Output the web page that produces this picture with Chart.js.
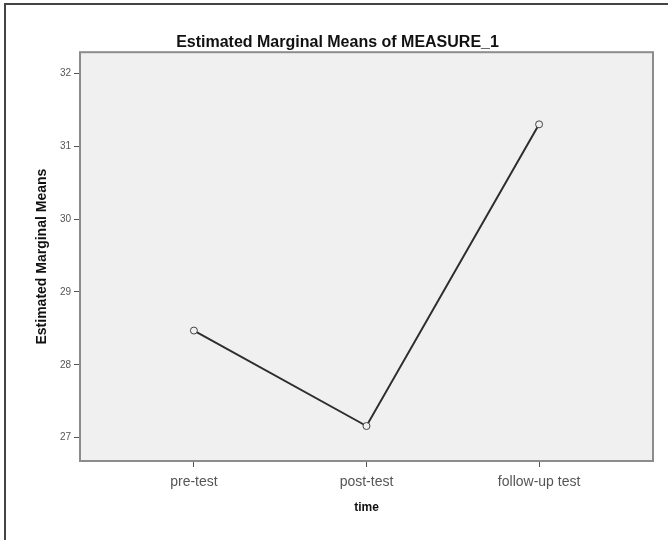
<!DOCTYPE html>
<html>
<head>
<meta charset="utf-8">
<script src="https://cdn.jsdelivr.net/npm/chart.js@4"></script>
<style>
  html, body { margin: 0; padding: 0; background: #fff; }
  #wrap { width: 668px; height: 540px; position: relative; }
</style>
</head>
<body>
<div id="wrap"><canvas id="emmChart" width="668" height="540"></canvas></div>
<script>
// values
const categories = ['pre-test', 'post-test', 'follow-up test'];
const means = [28.47, 27.16, 31.30];
const yTicks = [27, 28, 29, 30, 31, 32];

const FONT = '"Liberation Sans", Arial, sans-serif';

// plot background, plot border and the outer frame lines
const frame = {
  id: 'frame',
  beforeDraw(chart) {
    const { ctx, chartArea: a } = chart;
    ctx.save();
    ctx.strokeStyle = '#444';
    ctx.lineWidth = 2;
    ctx.beginPath();
    ctx.moveTo(5, 540);
    ctx.lineTo(5, 4);
    ctx.lineTo(668, 4);
    ctx.stroke();
    ctx.fillStyle = '#f0f0f0';
    ctx.fillRect(a.left, a.top, a.right - a.left, a.bottom - a.top);
    ctx.restore();
  },
  afterDatasetsDraw(chart) {
    const { ctx, chartArea: a } = chart;
    ctx.save();
    ctx.strokeStyle = '#8c8c8c';
    ctx.lineWidth = 2;
    ctx.strokeRect(a.left, a.top, a.right - a.left, a.bottom - a.top);
    ctx.restore();
  }
};

const ctx = document.getElementById('emmChart').getContext('2d');
new Chart(ctx, {
  type: 'line',
  data: {
    datasets: [{
      label: 'MEASURE_1',
      data: means.map((v, i) => ({ x: i, y: v })),
      borderColor: '#2e2e2e',
      borderWidth: 2,
      pointStyle: 'circle',
      pointRadius: 3.5,
      pointBackgroundColor: '#f0f0f0',
      pointBorderColor: '#444',
      pointBorderWidth: 1,
      tension: 0
    }]
  },
  options: {
    responsive: false,
    animation: false,
    layout: { padding: { left: 22, right: 15, top: 0, bottom: 0 } },
    plugins: {
      legend: { display: false },
      tooltip: { enabled: false },
      title: {
        display: true,
        text: 'Estimated Marginal Means of MEASURE_1',
        color: '#111',
        font: { family: FONT, size: 16, weight: 'bold' },
        padding: { top: 33, bottom: 0 }
      }
    },
    scales: {
      x: {
        type: 'linear',
        min: -0.66,
        max: 2.66,
        afterBuildTicks: s => { s.ticks = categories.map((c, i) => ({ value: i })); },
        afterFit: s => { s.height = 540 - 461; },
        border: { display: false },
        grid: { drawOnChartArea: false, drawTicks: true, tickLength: 6, color: '#555' },
        ticks: {
          color: '#555',
          padding: 7,
          maxRotation: 0,
          font: { family: FONT, size: 14 },
          callback: v => categories[v]
        },
        title: {
          display: true,
          text: 'time',
          color: '#111',
          font: { family: FONT, size: 12, weight: 'bold' },
          padding: { top: 4, bottom: 25 }
        }
      },
      y: {
        min: 26.68,
        max: 32.29,
        afterBuildTicks: s => { s.ticks = yTicks.map(v => ({ value: v })); },
        afterFit: s => { s.width = 58; },
        border: { display: false },
        grid: { drawOnChartArea: false, drawTicks: true, tickLength: 6, color: '#555' },
        ticks: {
          color: '#555',
          padding: 3,
          font: { family: FONT, size: 10 }
        },
        title: {
          display: true,
          text: 'Estimated Marginal Means',
          color: '#111',
          font: { family: FONT, size: 14, weight: 'bold' },
          padding: { top: 12, bottom: 0 }
        }
      }
    }
  },
  plugins: [frame]
});
</script>
</body>
</html>
